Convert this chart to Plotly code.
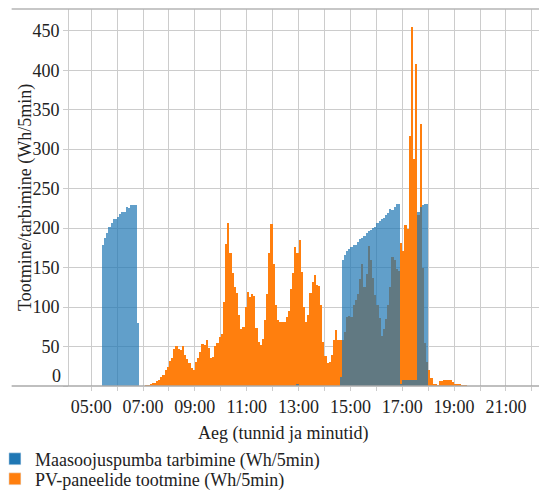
import pandas as pd
import plotly.graph_objects as go

DAY = "2024-06-01"
FONT = "Liberation Serif"
BLUE = "#1f77b4"
ORANGE = "#ff7f0e"
GRID = "#cccccc"
FS = 18

# Maasoojuspumba tarbimine (Wh/5min), 5-minute slots, each segment has its start time
pump_morning_start = "05:25"
pump_morning = [178, 187, 194, 201, 206, 211, 211,
                214, 218, 221, 221, 227, 226, 229, 229, 229, 80]
pump_midday_start = "12:55"
pump_midday = [3]
pump_afternoon_start = "14:35"
pump_afternoon = [12,
                  159, 166, 171, 173,
                  176, 178, 179, 182, 186, 188, 190, 194, 196, 197, 200, 202,
                  206, 209, 212, 213, 216, 219, 224, 223, 227, 230, 231, 2,
                  7, 7, 7, 7, 7, 7, 7, 221, 227, 229, 230, 231]

# PV-paneelide tootmine (Wh/5min), 5-minute slots from 07:00
pv_start = "07:00"
pv_values = [
    0, 0.5, 1, 2, 4, 4, 6, 7, 11, 14, 20, 24,                       # 07
    32, 35, 47, 51, 47, 45, 51, 39, 34, 29, 23, 20,                 # 08
    31, 35, 43, 53, 52, 58, 48, 35, 37, 51, 55, 62,                 # 09
    66, 107, 180, 207, 169, 143, 125, 118, 90, 72, 75, 100,         # 10
    119, 113, 116, 114, 73, 56, 52, 59, 84, 117, 169, 205,          # 11
    155, 103, 83, 81, 81, 81, 87, 95, 123, 143, 176, 169,           # 12
    185, 144, 100, 81, 90, 118, 132, 141, 128, 127, 102, 56,        # 13
    38, 29, 31, 39, 58, 71, 58, 58, 58, 69, 88, 89,                 # 14
    88, 103, 109, 116, 136, 154, 126, 142, 177, 160, 137, 115,      # 15
    103, 86, 63, 72, 85, 102, 126, 164, 160, 148, 146, 181,         # 16
    171, 204, 199, 317, 455, 287, 408, 216, 332, 150, 55, 30,       # 17
    20, 10, 3, 3, 1, 6, 6, 8, 8, 8, 7, 5,                           # 18
    2, 3, 2, 1, 1, 0.5,                                             # 19
]

y_ticks = [0, 50, 100, 150, 200, 250, 300, 350, 400, 450]
x_hours = list(range(5, 23))


def slots(start, values):
    return list(pd.date_range(f"{DAY} {start}", periods=len(values), freq="5min"))


pump_x = (slots(pump_morning_start, pump_morning)
          + slots(pump_midday_start, pump_midday)
          + slots(pump_afternoon_start, pump_afternoon))
pump_y = pump_morning + pump_midday + pump_afternoon
pv_x = slots(pv_start, pv_values)

fig = go.Figure()
fig.add_bar(x=pv_x, y=pv_values, marker_color=ORANGE, marker_line_width=0,
            width=300000, offset=0, showlegend=False)
fig.add_bar(x=pump_x, y=pump_y, marker_color=BLUE, marker_line_width=0,
            opacity=0.7, width=300000, offset=0, showlegend=False)
# legend entries with solid colours, one legend each so the rows sit closer
fig.add_bar(x=[None], y=[None], marker_color=BLUE,
            name="Maasoojuspumba tarbimine (Wh/5min)", legend="legend")
fig.add_bar(x=[None], y=[None], marker_color=ORANGE,
            name="PV-paneelide tootmine (Wh/5min)", legend="legend2")

tick_vals = [f"{DAY} {h:02d}:00" for h in x_hours]
tick_text = [f"{h:02d}:00" if h % 2 == 1 and h < 22 else "" for h in x_hours]

legend_style = dict(
    xref="paper", yref="paper", x=-0.155, xanchor="left", yanchor="middle",
    font=dict(family=FONT, size=FS), itemwidth=30, bgcolor="rgba(0,0,0,0)",
)

# the page body adds an 8px offset, so the figure is 8px smaller than the window
fig.update_layout(
    width=539, height=482,
    margin=dict(l=60.5, r=0, t=1.3, b=103.5, autoexpand=False),
    paper_bgcolor="white", plot_bgcolor="white",
    font=dict(family=FONT, size=FS, color="#222"),
    barmode="overlay", bargap=0,
    xaxis=dict(
        type="date",
        range=[f"{DAY} 04:08:40", f"{DAY} 22:35:00"],
        tickvals=tick_vals, ticktext=tick_text, tickangle=0,
        tickfont=dict(family=FONT, size=FS),
        showgrid=True, gridcolor=GRID, gridwidth=1,
        ticks="outside", ticklen=4, tickcolor=GRID,
        showline=False, zeroline=False,
    ),
    yaxis=dict(
        range=[0, 477.5],
        tickvals=y_ticks, ticktext=["" if v == 0 else str(v) for v in y_ticks],
        tickfont=dict(family=FONT, size=FS),
        showgrid=True, gridcolor=GRID, gridwidth=1,
        ticks="outside", ticklen=5, tickcolor=GRID,
        showline=True, linecolor=GRID, linewidth=1,
        zeroline=False,
    ),
    legend=dict(legend_style, y=-0.194),
    legend2=dict(legend_style, y=-0.247),
    shapes=[
        dict(type="line", xref="paper", yref="paper", x0=-0.12, x1=1, y0=1, y1=1,
             line=dict(color="#b4b4b4", width=1.5)),
        dict(type="line", xref="paper", yref="paper", x0=-0.12, x1=1, y0=0, y1=0,
             line=dict(color="#aaaaaa", width=1.5)),
    ],
    annotations=[
        dict(text="0", xref="paper", yref="y", x=0, y=0, xanchor="right", yanchor="bottom",
             xshift=-6, yshift=-2, showarrow=False, font=dict(family=FONT, size=FS)),
        dict(text="Tootmine/tarbimine (Wh/5min)", xref="paper", yref="paper",
             x=-0.091, y=0.5, textangle=-90, showarrow=False,
             xanchor="center", yanchor="middle", font=dict(family=FONT, size=FS)),
        dict(text="Aeg (tunnid ja minutid)", xref="paper", yref="paper",
             x=0.448, y=-0.126, showarrow=False,
             xanchor="center", yanchor="middle", font=dict(family=FONT, size=FS)),
    ],
)

fig.write_html("out.html")
